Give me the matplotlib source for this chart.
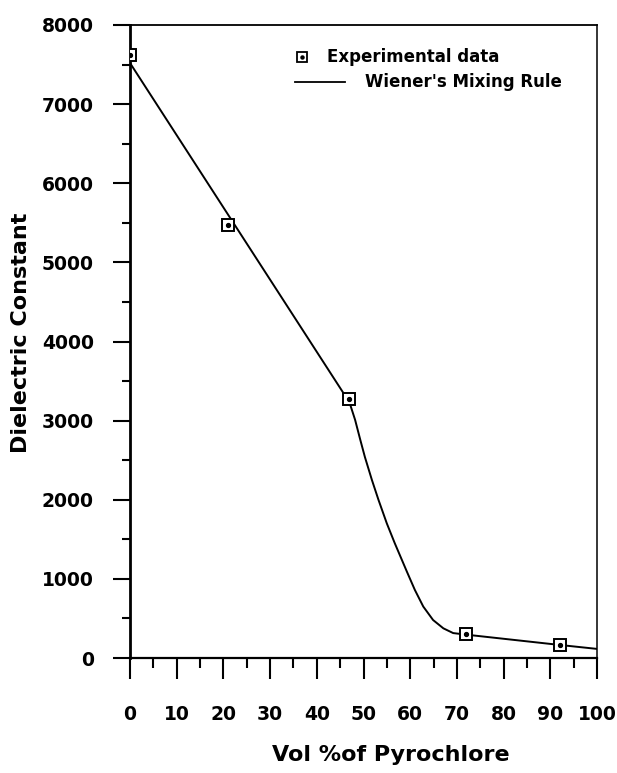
import matplotlib
matplotlib.use("Agg")
import matplotlib.pyplot as plt
from matplotlib.ticker import MultipleLocator
from matplotlib.lines import Line2D

plt.rcParams['font.family'] = ['DejaVu Sans']
plt.rcParams['font.weight'] = 'bold'

# Measured dielectric constant vs. volume % of pyrochlore phase
exp_vol = [0, 21, 47, 72, 92]
exp_eps = [7620, 5470, 3270, 303, 164]

# Wiener's mixing rule curve
rule_vol = [0, 47, 48.2, 49.3, 50.3, 51.8, 53.2, 55, 56.7, 58, 59.3, 61,
            62.8, 64.9, 67.1, 69.2, 72, 92, 100]
rule_eps = [7520, 3230, 3010, 2760, 2540, 2250, 2000, 1700, 1450, 1270, 1090,
            860, 650, 480, 375, 315, 295, 165, 115]

x_ticks = [0, 10, 20, 30, 40, 50, 60, 70, 80, 90, 100]
y_ticks = [0, 1000, 2000, 3000, 4000, 5000, 6000, 7000, 8000]

fig = plt.figure(figsize=(6.17, 7.73), dpi=100)
ax = fig.add_axes([130 / 617, 1 - 658 / 773, 467 / 617, 633 / 773])

ax.plot(rule_vol, rule_eps, color='black', lw=1.4, zorder=2)
ax.plot(exp_vol, exp_eps, linestyle='none', marker='s', markersize=8.5,
        markerfacecolor='white', markeredgecolor='black', markeredgewidth=1.4,
        zorder=3)
ax.plot(exp_vol, exp_eps, linestyle='none', marker='o', markersize=2.8,
        color='black', zorder=4)

ax.set_xlim(0, 100)
ax.set_ylim(0, 8000)
ax.set_xticks(x_ticks)
ax.set_yticks(y_ticks)
ax.xaxis.set_minor_locator(MultipleLocator(5))
ax.yaxis.set_minor_locator(MultipleLocator(500))

ax.tick_params(axis='x', which='major', direction='out', length=15, width=1.5,
               pad=19, labelsize=13.5)
ax.tick_params(axis='x', which='minor', direction='out', length=7, width=1.5)
ax.tick_params(axis='y', which='major', direction='out', length=12, width=1.5,
               pad=14, labelsize=13.5)
ax.tick_params(axis='y', which='minor', direction='out', length=6, width=1.5)
for lab in ax.get_xticklabels() + ax.get_yticklabels():
    lab.set_fontweight('bold')

ax.spines['left'].set_linewidth(2.0)
ax.spines['bottom'].set_linewidth(1.6)
ax.spines['top'].set_linewidth(1.3)
ax.spines['right'].set_linewidth(1.1)

ax.set_xlabel('Vol %of Pyrochlore', fontsize=16, fontweight='bold')
ax.set_ylabel('Dielectric Constant', fontsize=16, fontweight='bold')
ax.xaxis.set_label_coords((391 - 130) / 467, (658 - 745) / 633)
ax.yaxis.set_label_coords((31 - 130) / 467, (658 - 333) / 633)

# Legend drawn in axes coordinates
tr = ax.transAxes
def ax_xy(px, py):
    return (px - 130) / 467, (658 - py) / 633

mx, my = ax_xy(302, 57)
ax.add_line(Line2D([mx], [my], marker='s', markersize=7, markerfacecolor='white',
                   markeredgecolor='black', markeredgewidth=1.3, transform=tr))
ax.add_line(Line2D([mx], [my], marker='o', markersize=2.2, color='black',
                   transform=tr))
tx, ty = ax_xy(327, 57)
ax.text(tx, ty, 'Experimental data', transform=tr, fontsize=12,
        fontweight='bold', va='center', ha='left')
l0 = ax_xy(295, 82)
l1 = ax_xy(345, 82)
ax.add_line(Line2D([l0[0], l1[0]], [l0[1], l1[1]], color='black', lw=1.3,
                   transform=tr))
tx, ty = ax_xy(365, 82)
ax.text(tx, ty, "Wiener's Mixing Rule", transform=tr, fontsize=12,
        fontweight='bold', va='center', ha='left')

fig.savefig('out.png', dpi=100, facecolor='white')
